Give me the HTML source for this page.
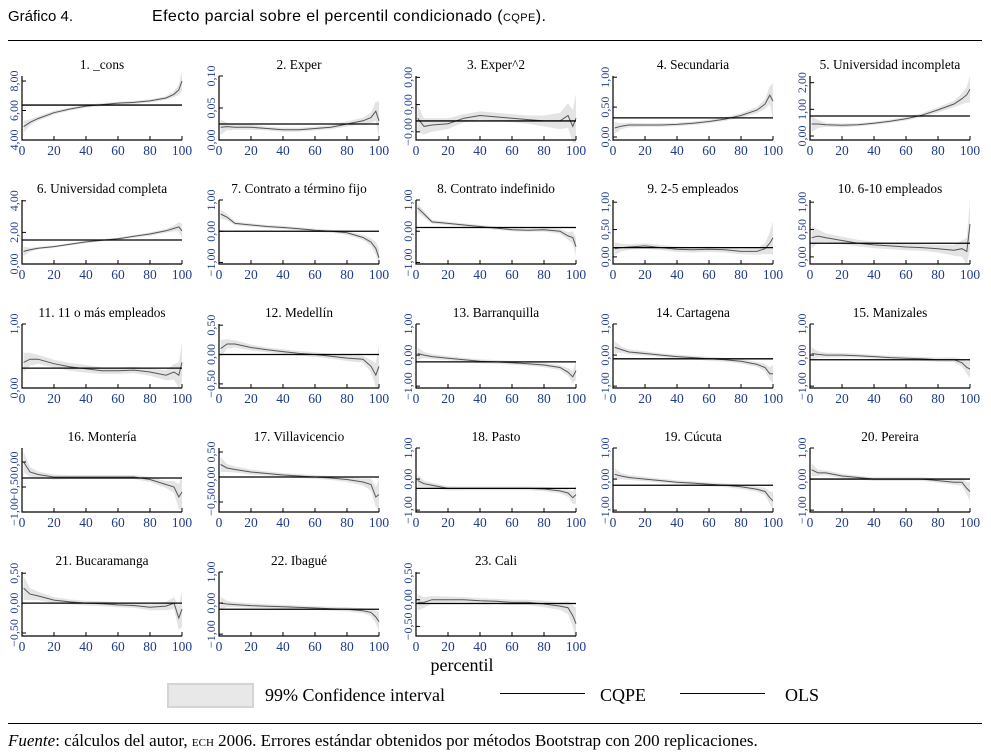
<!DOCTYPE html>
<html><head><meta charset="utf-8">
<style>
html,body{margin:0;padding:0;background:#fff;width:991px;height:753px;overflow:hidden}
svg{display:block}
.ser{font-family:"Liberation Serif",serif}
.san{font-family:"Liberation Sans",sans-serif}
</style></head>
<body>
<svg id="fig" width="991" height="753" viewBox="0 0 991 753" xmlns="http://www.w3.org/2000/svg">
<text class="san" x="8" y="21" font-size="15" fill="#000">Gráfico 4.</text>
<text class="san" x="152" y="21" font-size="16" letter-spacing="0.4" fill="#000">Efecto parcial sobre el percentil condicionado (<tspan font-size="11">CQPE</tspan>).</text>
<line x1="8" y1="40.5" x2="982" y2="40.5" stroke="#000" stroke-width="1"/>
<g id="panels"></g>
<text class="ser" x="462" y="671" font-size="18" text-anchor="middle">percentil</text>
<g>
<rect x="168" y="684" width="85" height="23" fill="#e8e8e8" stroke="#d4d4d4" stroke-width="2"/>
<text class="ser" x="265" y="701" font-size="18">99% Confidence interval</text>
<line x1="500" y1="693.5" x2="585" y2="693.5" stroke="#000" stroke-width="1"/>
<text class="ser" x="600" y="701" font-size="18">CQPE</text>
<line x1="680" y1="693.5" x2="765" y2="693.5" stroke="#000" stroke-width="1"/>
<text class="ser" x="785" y="701" font-size="18">OLS</text>
</g>
<line x1="8" y1="723.5" x2="982" y2="723.5" stroke="#000" stroke-width="1"/>
<text class="ser" x="8" y="746" font-size="17"><tspan font-style="italic">Fuente</tspan>: cálculos del autor, <tspan font-size="11">ECH</tspan> 2006. Errores estándar obtenidos por métodos Bootstrap con 200 replicaciones.</text>
</svg>
<script>
const percentiles = [1,5,10,20,30,40,50,60,70,80,90,95,98,100];
const xTicks = [0,20,40,60,80,100];
const titles = ["1. _cons","2. Exper","3. Exper^2","4. Secundaria","5. Universidad incompleta","6. Universidad completa","7. Contrato a término fijo","8. Contrato indefinido","9. 2-5 empleados","10. 6-10 empleados","11. 11 o más empleados","12. Medellín","13. Barranquilla","14. Cartagena","15. Manizales","16. Montería","17. Villavicencio","18. Pasto","19. Cúcuta","20. Pereira","21. Bucaramanga","22. Ibagué","23. Cali"];
const yMins = [4,0,-0.0013,-0.05,-0.15,0,-1.05,-1.05,-0.13,-0.13,0,-0.57,-1.06,-1.06,-1.06,-1.0,-0.7,-1.06,-1.06,-1.06,-0.55,-1.06,-0.68];
const yMaxs = [8.34,0.1,0.00105,1.02,2.25,4.05,1.0,1.0,1.04,1.04,1.0,0.52,1.0,1.0,1.0,0.28,0.58,1.0,1.0,1.0,0.52,1.0,0.52];
const yTickVals = [[4,6,8],[0,0.05,0.1],[-0.001,0,0.001],[0,0.5,1],[0,1,2],[0,2,4],[-1,0,1],[-1,0,1],[0,0.5,1],[0,0.5,1],[0,1],[-0.5,0,0.5],[-1,0,1],[-1,0,1],[-1,0,1],[-1,-0.5,0],[-0.5,0,0.5],[-1,0,1],[-1,0,1],[-1,0,1],[-0.5,0,0.5],[-1,0,1],[-0.5,0,0.5]];
const yTickLabels = [["4,00","6,00","8,00"],["0,00","0,05","0,10"],["−0,00","0,00","0,00"],["0,00","0,50","1,00"],["0,00","1,00","2,00"],["0,00","2,00","4,00"],["−1,00","0,00","1,00"],["−1,00","0,00","1,00"],["0,00","0,50","1,00"],["0,00","0,50","1,00"],["0,00","1,00"],["−0,50","0,00","0,50"],["−1,00","0,00","1,00"],["−1,00","0,00","1,00"],["−1,00","0,00","1,00"],["−1,00","−0,50","0,00"],["−0,50","0,00","0,50"],["−1,00","0,00","1,00"],["−1,00","0,00","1,00"],["−1,00","0,00","1,00"],["−0,50","0,00","0,50"],["−1,00","0,00","1,00"],["−0,50","0,00","0,50"]];
const olsValues = [6.37,0.025,-0.0006,0.32,0.75,1.52,0,0.12,0.17,0.25,0.31,0,-0.22,-0.12,-0.15,-0.32,0,-0.3,-0.2,0,0,-0.2,-0.07];
const cqpeValues = [
[4.9,5.2,5.45,5.85,6.1,6.3,6.4,6.5,6.55,6.65,6.85,7.1,7.4,8.0],
[0.02,0.021,0.02,0.02,0.018,0.016,0.016,0.018,0.02,0.025,0.03,0.035,0.045,0.03],
[-0.0005,-0.0008,-0.00075,-0.0007,-0.0005,-0.0004,-0.00045,-0.0005,-0.00055,-0.0006,-0.0006,-0.0004,-0.0008,-0.0005],
[0.15,0.18,0.2,0.2,0.2,0.21,0.23,0.26,0.3,0.36,0.45,0.55,0.7,0.6],
[0.45,0.45,0.42,0.4,0.42,0.48,0.55,0.65,0.78,0.98,1.2,1.4,1.55,1.75],
[0.8,0.9,1.0,1.1,1.25,1.4,1.5,1.6,1.75,1.9,2.1,2.25,2.35,2.1],
[0.55,0.45,0.25,0.2,0.15,0.12,0.08,0.03,0,-0.05,-0.2,-0.35,-0.55,-0.85],
[0.75,0.55,0.3,0.25,0.2,0.15,0.1,0.05,0.03,0.05,0,-0.15,-0.2,-0.5],
[0.15,0.17,0.18,0.2,0.17,0.14,0.13,0.14,0.13,0.1,0.1,0.15,0.25,0.35],
[0.35,0.38,0.35,0.3,0.25,0.22,0.2,0.18,0.17,0.15,0.12,0.15,0.1,0.6],
[0.4,0.45,0.45,0.38,0.33,0.3,0.27,0.27,0.28,0.25,0.2,0.25,0.2,0.4],
[0.1,0.18,0.18,0.12,0.08,0.05,0.02,0,-0.03,-0.06,-0.08,-0.2,-0.35,-0.2],
[0.05,0,-0.05,-0.1,-0.15,-0.2,-0.22,-0.25,-0.28,-0.32,-0.4,-0.55,-0.7,-0.5],
[0.25,0.18,0.1,0.05,0.0,-0.05,-0.08,-0.12,-0.15,-0.2,-0.3,-0.4,-0.6,-0.6],
[0.05,0.02,0.0,0.0,-0.02,-0.05,-0.08,-0.1,-0.12,-0.15,-0.15,-0.25,-0.4,-0.45],
[0,-0.2,-0.25,-0.3,-0.3,-0.3,-0.3,-0.3,-0.3,-0.35,-0.45,-0.5,-0.7,-0.6],
[0.25,0.18,0.15,0.1,0.07,0.04,0.02,0,-0.02,-0.05,-0.1,-0.15,-0.4,-0.35],
[-0.05,-0.15,-0.2,-0.3,-0.3,-0.3,-0.3,-0.3,-0.3,-0.32,-0.38,-0.45,-0.6,-0.5],
[0.15,0.1,0.05,0,-0.05,-0.1,-0.13,-0.17,-0.2,-0.25,-0.33,-0.4,-0.6,-0.7],
[0.3,0.2,0.2,0.1,0.05,0.0,0.0,0.0,0.0,-0.05,-0.1,-0.1,-0.3,-0.4],
[0.25,0.15,0.12,0.05,0.02,0.0,-0.01,-0.03,-0.04,-0.07,-0.05,0.0,-0.25,-0.1],
[0,-0.03,-0.05,-0.08,-0.1,-0.12,-0.14,-0.16,-0.18,-0.2,-0.25,-0.3,-0.45,-0.6],
[-0.05,-0.05,0.0,0.0,0.0,-0.02,-0.03,-0.05,-0.05,-0.08,-0.12,-0.15,-0.3,-0.45]
];
const ciHalfWidths = [
[0.4,0.2,0.15,0.12,0.1,0.1,0.1,0.1,0.1,0.1,0.12,0.2,0.35,0.7],
[0.012,0.006,0.004,0.004,0.003,0.003,0.003,0.003,0.003,0.004,0.005,0.008,0.015,0.03],
[0.0005,0.0003,0.00025,0.0002,0.00015,0.00015,0.00015,0.00015,0.00015,0.0002,0.0003,0.00045,0.0006,0.0009],
[0.1,0.05,0.04,0.03,0.03,0.03,0.03,0.03,0.03,0.04,0.05,0.08,0.15,0.3],
[0.3,0.15,0.08,0.07,0.06,0.06,0.06,0.07,0.08,0.1,0.12,0.2,0.3,0.5],
[0.3,0.12,0.08,0.07,0.07,0.07,0.07,0.08,0.08,0.1,0.12,0.18,0.3,0.45],
[0.15,0.1,0.06,0.05,0.05,0.05,0.05,0.05,0.05,0.06,0.08,0.12,0.2,0.3],
[0.15,0.1,0.06,0.05,0.05,0.05,0.05,0.05,0.05,0.06,0.08,0.12,0.2,0.3],
[0.12,0.07,0.05,0.05,0.05,0.05,0.05,0.05,0.05,0.05,0.06,0.1,0.2,0.3],
[0.2,0.12,0.08,0.07,0.06,0.06,0.06,0.06,0.06,0.07,0.1,0.15,0.25,0.45],
[0.15,0.1,0.07,0.06,0.06,0.06,0.05,0.05,0.05,0.06,0.08,0.12,0.2,0.3],
[0.15,0.08,0.06,0.05,0.04,0.04,0.04,0.04,0.04,0.05,0.06,0.1,0.2,0.35],
[0.2,0.1,0.08,0.07,0.06,0.06,0.06,0.06,0.06,0.07,0.08,0.12,0.2,0.3],
[0.2,0.1,0.08,0.07,0.06,0.06,0.06,0.06,0.06,0.07,0.08,0.12,0.2,0.3],
[0.2,0.1,0.08,0.07,0.06,0.06,0.06,0.06,0.06,0.07,0.08,0.12,0.2,0.3],
[0.2,0.1,0.06,0.05,0.04,0.04,0.04,0.04,0.04,0.05,0.07,0.12,0.25,0.35],
[0.15,0.08,0.06,0.05,0.04,0.04,0.04,0.04,0.04,0.05,0.07,0.12,0.2,0.3],
[0.2,0.1,0.08,0.07,0.06,0.06,0.06,0.06,0.06,0.07,0.08,0.12,0.2,0.3],
[0.2,0.1,0.08,0.07,0.06,0.06,0.06,0.06,0.06,0.07,0.08,0.12,0.2,0.3],
[0.2,0.1,0.08,0.07,0.06,0.06,0.06,0.06,0.06,0.07,0.08,0.12,0.2,0.3],
[0.2,0.1,0.07,0.05,0.04,0.04,0.04,0.04,0.04,0.05,0.07,0.1,0.2,0.3],
[0.2,0.1,0.08,0.07,0.06,0.06,0.06,0.06,0.06,0.07,0.08,0.12,0.2,0.3],
[0.15,0.1,0.07,0.06,0.05,0.05,0.05,0.05,0.05,0.06,0.07,0.12,0.2,0.3]
];

const NS = "http://www.w3.org/2000/svg";
const root = document.getElementById('panels');
function mk(tag, attrs, parent){
  const e = document.createElementNS(NS, tag);
  for (const k in attrs) e.setAttribute(k, attrs[k]);
  parent.appendChild(e);
  return e;
}
const COLW = 197, ROWH = 124, X0 = 22, Y0 = 140, PW = 160, PH = 64;
const AXC = "#1f3c8c";
titles.forEach((title, i) => {
  const col = i % 5, row = Math.floor(i / 5);
  const ax = X0 + col * COLW, ay = Y0 + row * ROWH;
  const g = mk('g', {}, root);
  
  
  const xs = v => ax + v / 100 * PW;
  const ys = v => ay - (v - yMins[i]) / (yMaxs[i] - yMins[i]) * PH;
  const vals = cqpeValues[i], hw = ciHalfWidths[i];
  let d = '';
  percentiles.forEach((p, k) => { d += (k ? 'L' : 'M') + xs(p).toFixed(1) + ',' + ys(vals[k] + hw[k]).toFixed(1); });
  for (let k = percentiles.length - 1; k >= 0; k--) d += 'L' + xs(percentiles[k]).toFixed(1) + ',' + ys(vals[k] - hw[k]).toFixed(1);
  const band = mk('path', {d: d + 'Z', fill: '#e4e4e4', stroke: 'none'}, g);
  
  
  let dl = '';
  percentiles.forEach((p, k) => { dl += (k ? 'L' : 'M') + xs(p).toFixed(1) + ',' + ys(vals[k]).toFixed(1); });
  const line = mk('path', {d: dl, fill: 'none', stroke: '#555', 'stroke-width': 1}, g);
  
  
  const ols = mk('line', {x1: ax, x2: ax + PW, y1: ys(olsValues[i]), y2: ys(olsValues[i]), stroke: '#000', 'stroke-width': 1.3}, g);
  
  
  const axes = mk('path', {d: `M${ax},${ay - PH}V${ay}H${ax + PW}`, fill: 'none', stroke: '#000', 'stroke-width': 1.2}, g);
  
  
  xTicks.forEach(t => {
    const tk = mk('line', {x1: xs(t), x2: xs(t), y1: ay, y2: ay - 4, stroke: '#000', 'stroke-width': 1}, g);
    
    
    const tl = mk('text', {x: xs(t), y: ay + 15, 'font-size': 13.5, 'text-anchor': 'middle', fill: AXC, class: 'ser'}, g);
    tl.textContent = String(t);
    
    
  });
  yTickVals[i].forEach((t, k) => {
    const y = ys(t);
    const tk = mk('line', {x1: ax, x2: ax + 4, y1: y, y2: y, stroke: '#000', 'stroke-width': 1}, g);
    
    
    const tl = mk('text', {x: 0, y: 0, 'font-size': 12, 'text-anchor': 'middle', fill: AXC, class: 'ser', transform: `translate(${ax - 4},${y}) rotate(-90)`}, g);
    tl.textContent = yTickLabels[i][k];
    
    
  });
  const tt = mk('text', {x: ax + PW / 2, y: ay - 71, 'font-size': 13.3, 'text-anchor': 'middle', class: 'ser'}, g);
  tt.textContent = title;
  
  
});
</script>
</body></html>
